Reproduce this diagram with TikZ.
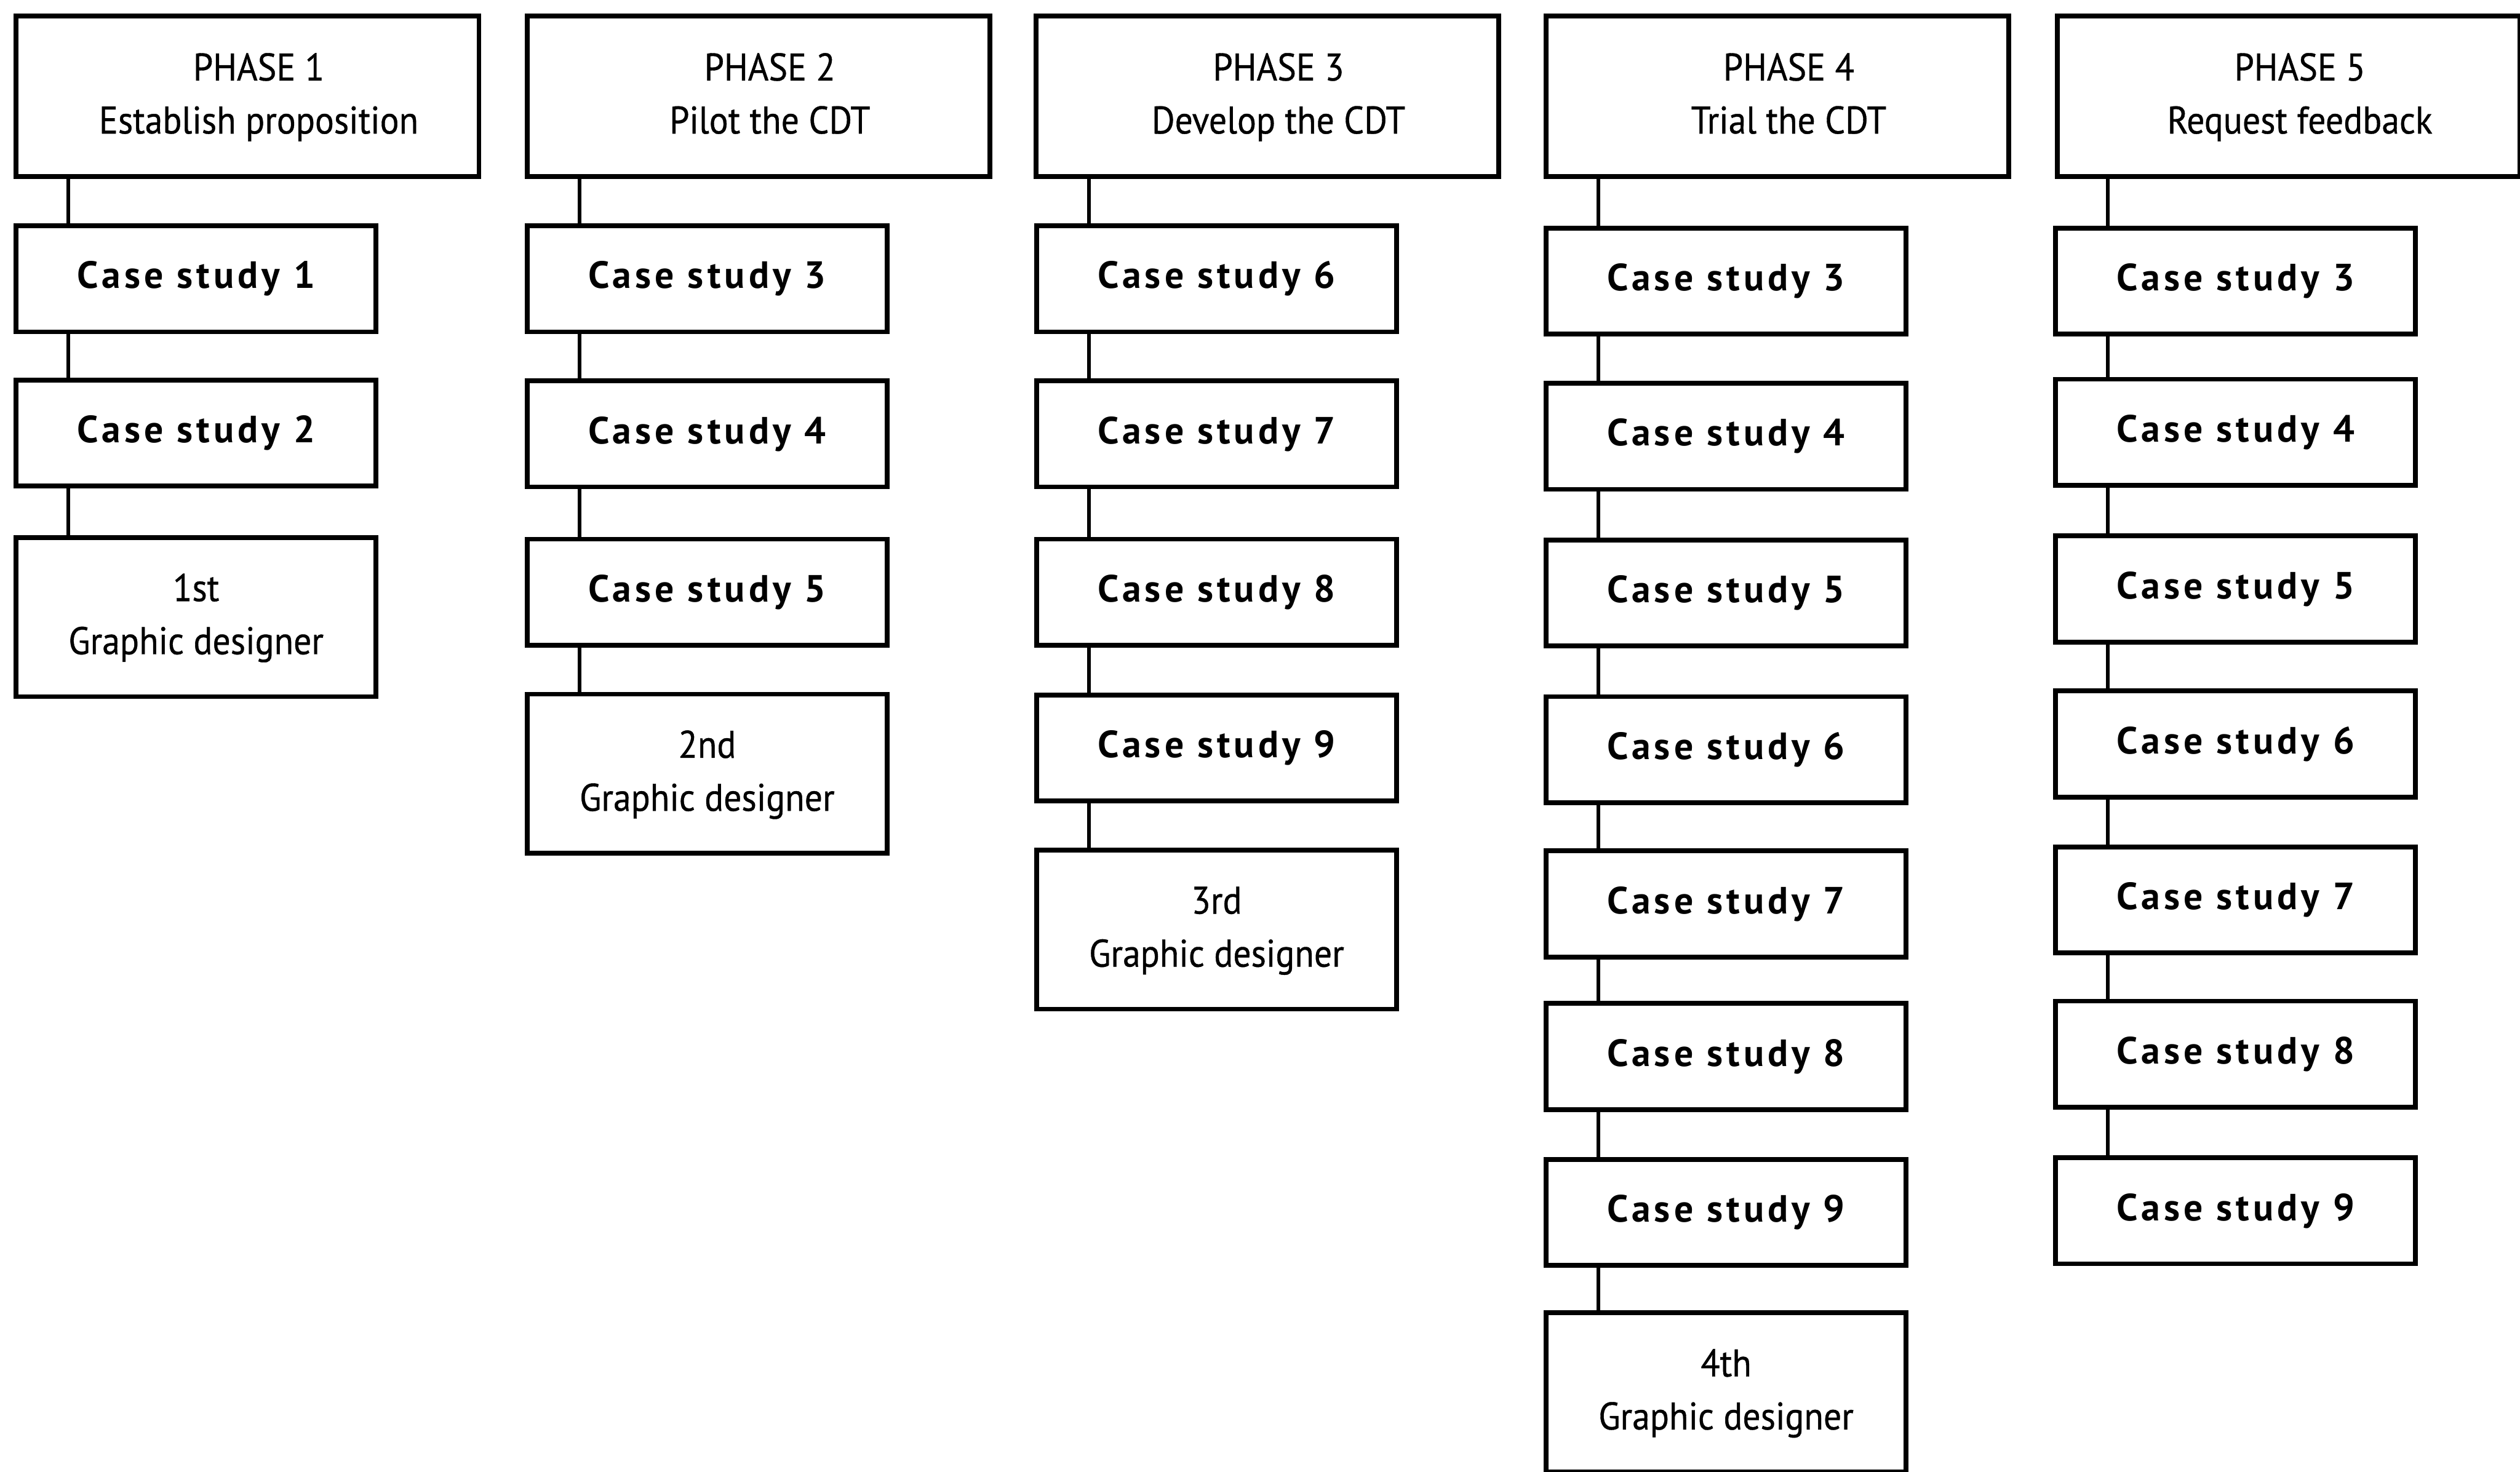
\documentclass[tikz,border=0pt]{standalone}
\usepackage{fontspec}
\newfontfamily\phasefam[FakeStretch=0.92,FakeBold=0.6]{PT Sans}
\newfontfamily\casefam[LetterSpace=10]{PT Sans}
\newcommand\pshift{\hspace*{7pt}}
\tikzset{
  x=0.5pt, y=-0.5pt,
  phasebox/.style={draw, line width=1.5pt, minimum width=144pt, minimum height=50pt,
    inner sep=0pt, align=center, font=\phasefam\fontsize{12}{16.5}\selectfont},
  casebox/.style={draw, line width=1.5pt, minimum width=112pt, minimum height=33pt,
    inner sep=0pt, font=\casefam\bfseries\fontsize{11.8}{14}\selectfont},
  gdbox/.style={draw, line width=1.5pt, minimum width=112pt, minimum height=49.5pt,
    inner sep=0pt, align=center, font=\phasefam\fontsize{12}{16.5}\selectfont},
  link/.style={line width=1.2pt}
}
\begin{document}
\begin{tikzpicture}
\useasboundingbox (0,0) rectangle (1568,916);
% Phase headers
\node[phasebox] (p1) at (154,60)   {\pshift PHASE 1\strut\\\pshift Establish proposition\strut};
\node[phasebox] (p2) at (472,60)   {\pshift PHASE 2\strut\\\pshift Pilot the CDT\strut};
\node[phasebox] (p3) at (788.5,60) {\pshift PHASE 3\strut\\\pshift Develop the CDT\strut};
\node[phasebox] (p4) at (1106,60)  {\pshift PHASE 4\strut\\\pshift Trial the CDT\strut};
\node[phasebox] (p5) at (1424,60)  {\pshift PHASE 5\strut\\\pshift Request feedback\strut};
% Column 1
\node[casebox] (a1) at (122,173.5) {Case study 1};
\node[casebox] (a2) at (122,269.5) {Case study 2};
\node[gdbox]   (a3) at (122,384)   {1st\strut\\Graphic designer\strut};
% Column 2
\node[casebox] (b1) at (440,173.5) {Case study 3};
\node[casebox] (b2) at (440,270)   {Case study 4};
\node[casebox] (b3) at (440,368.5) {Case study 5};
\node[gdbox]   (b4) at (440,481.5) {2nd\strut\\Graphic designer\strut};
% Column 3
\node[casebox] (c1) at (757,173.5) {Case study 6};
\node[casebox] (c2) at (757,270)   {Case study 7};
\node[casebox] (c3) at (757,368.5) {Case study 8};
\node[casebox] (c4) at (757,465.5) {Case study 9};
\node[gdbox]   (c5) at (757,578.5) {3rd\strut\\Graphic designer\strut};
% Column 4
\node[casebox] (d1) at (1074,175)   {Case study 3};
\node[casebox] (d2) at (1074,271.5) {Case study 4};
\node[casebox] (d3) at (1074,369)   {Case study 5};
\node[casebox] (d4) at (1074,466.5) {Case study 6};
\node[casebox] (d5) at (1074,562.5) {Case study 7};
\node[casebox] (d6) at (1074,657.5) {Case study 8};
\node[casebox] (d7) at (1074,754.5) {Case study 9};
\node[gdbox]   (d8) at (1074,866.5) {4th\strut\\Graphic designer\strut};
% Column 5
\node[casebox] (e1) at (1391,175)   {Case study 3};
\node[casebox] (e2) at (1391,269)   {Case study 4};
\node[casebox] (e3) at (1391,366.5) {Case study 5};
\node[casebox] (e4) at (1391,463)   {Case study 6};
\node[casebox] (e5) at (1391,560)   {Case study 7};
\node[casebox] (e6) at (1391,656)   {Case study 8};
\node[casebox] (e7) at (1391,753.5) {Case study 9};
% Connectors
\foreach \u/\v in {p1/a1,a1/a2,a2/a3,
                   p2/b1,b1/b2,b2/b3,b3/b4,
                   p3/c1,c1/c2,c2/c3,c3/c4,c4/c5,
                   p4/d1,d1/d2,d2/d3,d3/d4,d4/d5,d5/d6,d6/d7,d7/d8,
                   p5/e1,e1/e2,e2/e3,e3/e4,e4/e5,e5/e6,e6/e7}
  \draw[link] ([xshift=17pt]\v.north west) -- ([xshift=17pt]\v.north west |- \u.south);
\end{tikzpicture}
\end{document}
